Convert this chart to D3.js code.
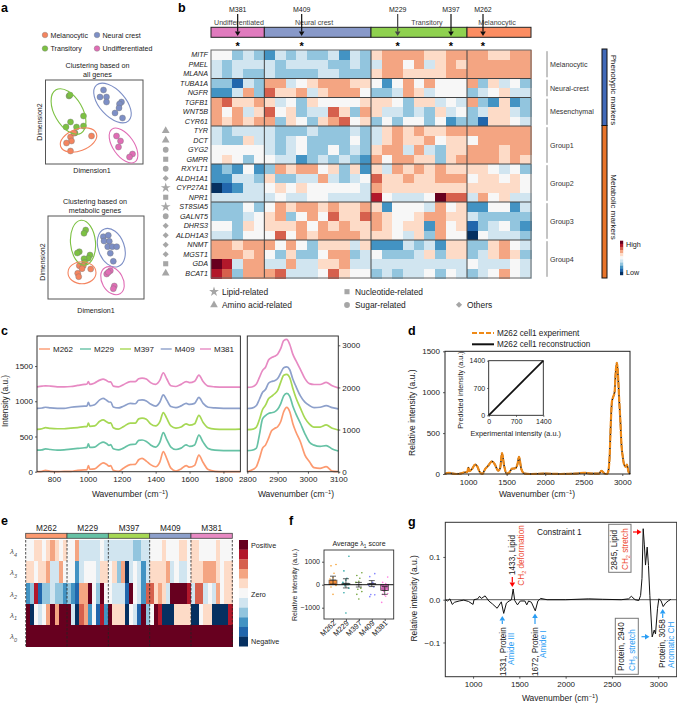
<!DOCTYPE html>
<html>
<head>
<meta charset="utf-8">
<script src="https://d3js.org/d3.v7.min.js"></script>
<style>
  html, body { margin: 0; padding: 0; background: #fff; }
  svg { display: block; }
  text { font-family: "Liberation Sans", Arial, sans-serif; fill: #222; }
</style>
</head>
<body>
<div id="chart"></div>
<script>
// shared 11 step colour ramp, level -5 .. 5
var ramp = ["#053061","#2166ac","#4393c3","#92c5de","#d1e5f0","#f7f7f7","#fddbc7","#f4a582","#d6604d","#b2182b","#67001f"];

var lines5 = ["M262","M229","M397","M409","M381"];
var lineColors = ["#fc9a70","#66c2a5","#a6d854","#8da0cb","#e78ac3"];

// panel a
var stateNames = ["Melanocytic","Neural crest","Transitory","Undifferentiated"];
var stateColors = ["#f4845f","#7d8fc6","#7cc142","#e06db5"];
var allTransitory = [[23.5,68],[24.5,69],[25,42],[38,48],[20.5,37],[31,37],[38,38],[29.5,31]];
var allMelanocytic = [[25,27],[46,28],[26,23],[21,21],[25,13],[28.5,31]];
var allNeural = [[58,74],[54.5,67],[61,67],[61,62],[76,62],[74,60],[73.5,56],[69.5,51],[77,46]];
var allUndiff = [[71,28],[75,23],[73,17],[87,10],[84,7]];
var metaTransitory = [[37.7,69],[36,65.7],[31.3,47.3],[29.3,46],[42,44],[40.3,40.7],[36,40.3],[36.7,36.7]];
var metaMelanocytic = [[31.3,33.3],[35.3,33.3],[42.7,30],[34,30.3],[29.7,25.7],[30.7,22.3]];
var metaNeural = [[55.3,62.3],[60.3,63.7],[56,58],[61.3,57.7],[59.7,52.3],[64.3,52.3],[68.7,52.3],[62.3,45.7],[65.3,37.7]];
var metaUndiff = [[62.3,28.3],[58.7,25],[60.3,26.7],[66.3,13],[65.3,10.3]];

// panel b
var genes = ["MITF","PMEL","MLANA","TUBA1A","NGFR","TGFB1","WNT5B","CYR61","TYR","DCT","GYG2","GMPR","RXYLT1","ALDH1A1","CYP27A1","NPR1","ST8SIA5","GALNT5","DHRS3","ALDH1A3","NNMT","MGST1","GDA","BCAT1"];
var geneLevels = [
  [0,0,-2,-1,-2, -3,-1,-2,-1,-2,-2,-1,-3,-1,-2, 1,2,2,2,2,1,1,2,2, 2,2,1,1,2,2],
  [-1,-2,-1,-1,-1, -1,-2,-1,-1,-1,-1,-2,-2,-1,-2, -1,2,2,0,2,-1,1,2,1, 2,2,2,2,2,2],
  [-1,-2,-1,-2,-2, -1,-2,-2,-2,-2,-1,-1,-2,-2,-2, 1,2,2,1,1,1,1,2,2, 2,2,2,2,2,2],
  [-2,-2,-4,-1,-2, 2,2,-1,0,1,2,2,2,1,1, 0,-3,0,2,0,2,0,0,0, 2,-2,1,-1,0,-2],
  [-3,-3,-1,2,-2, 3,1,1,2,-1,1,2,2,2,0, -2,-2,-1,2,1,-1,0,0,0, -2,-1,0,1,-1,-1],
  [2,3,1,1,2, 1,-1,0,-2,1,0,0,0,0,1, 1,1,0,-2,1,1,-1,0,-1, 2,-2,-3,1,-3,-2],
  [2,0,2,-1,1, 3,0,1,-2,-1,-1,3,1,-2,2, 1,-1,-1,-2,-1,-2,1,-1,0, -2,-1,1,1,-1,-2],
  [2,1,2,1,2, 2,-2,1,0,-2,1,2,3,0,1, -2,0,-2,0,0,-2,0,-3,-2, -2,-4,1,1,0,-1],
  [-1,-2,-1,-1,-1, -1,-2,-2,-2,-1,-2,-2,-2,-1,-2, -1,1,2,1,2,1,1,2,2, 2,2,2,2,2,2],
  [-1,-2,-2,1,-1, -1,-2,-1,0,-2,-2,-2,-2,0,-2, -1,1,2,1,1,2,0,1,1, 0,2,2,2,2,2],
  [0,0,0,0,0, -1,-2,-1,0,-2,-2,0,-2,-1,-2, 1,2,2,-1,2,-1,-2,1,1, 2,2,2,1,2,2],
  [0,1,0,-2,0, 0,-1,-1,-3,-2,-1,-2,-1,-2,-3, 2,0,2,2,1,1,-2,1,2, 2,2,2,1,2,1],
  [-3,-2,-3,0,-3, -2,2,1,2,2,0,1,-2,1,-3, 1,-1,2,1,2,1,2,1,1, 1,1,0,-1,0,-2],
  [-3,-3,-1,-1,-2, 1,-2,-2,-1,-1,2,-1,-2,-1,0, 3,1,1,2,1,1,2,2,2, 0,1,1,0,1,0],
  [-5,-4,-3,-1,-1, 0,1,0,1,0,0,0,0,0,-1, 2,1,1,1,1,1,1,1,1, 1,1,1,1,1,0],
  [-1,-1,-1,-1,-1, -1,0,-1,-1,0,0,-1,-1,-1,-1, 4,0,-1,-1,-1,0,5,3,3, -1,2,0,1,-1,-1],
  [-2,-2,-2,0,-2, 0,2,1,2,2,1,2,1,1,2, 1,-3,0,0,0,-1,2,0,1, -3,-3,0,0,-3,-1],
  [-2,-2,-2,-1,0, 1,2,-2,0,2,0,3,1,1,3, 2,1,0,0,1,2,2,1,1, -1,-2,-2,-2,-2,-2],
  [0,0,-2,1,0, 1,1,1,2,0,2,1,2,1,1, 2,1,0,1,1,-3,2,0,1, -4,-2,-1,0,-2,-3],
  [-1,-1,-2,0,0, 0,3,0,2,1,2,2,2,2,1, 1,1,0,-1,1,-2,2,0,0, -5,0,-1,-1,-1,-2],
  [2,2,1,2,2, 2,0,2,0,-2,1,1,1,-1,1, -3,-3,-3,-1,-2,-1,-3,1,1, -2,-2,1,2,0,-1],
  [2,2,2,1,2, 0,-2,1,-2,-2,0,2,2,-2,-1, 0,-2,-2,-2,-1,1,-2,1,1, -2,-1,1,2,1,-2],
  [5,4,-1,2,2, -1,-1,2,-1,-1,1,1,2,-1,-1, -1,-1,-1,-1,-1,-1,-1,-1,-1, 0,-1,-1,-1,0,-1],
  [4,3,-2,2,2, 2,3,-1,-1,-1,0,3,1,0,0, -2,-1,-2,-1,-1,0,-2,0,-1, -2,-1,0,2,0,-1]
];
var phenoNames = ["Undifferentiated","Neural crest","Transitory","Melanocytic"];
var phenoCounts = [5,10,9,6];
var phenoColors = ["#e07bbe","#8899c9","#8fd14f","#fc8d62"];
var pickedLines = ["M381","M409","M229","M397","M262"];
var pickedColumns = [2,8,17,22,25];
var geneGroups = ["Melanocytic","Neural-crest","Mesenchymal","Group1","Group2","Group3","Group4"];
var geneGroupCounts = [3,2,3,4,4,4,4];
var metabolicGenes = ["TYR","DCT","GYG2","GMPR","RXYLT1","ALDH1A1","CYP27A1","NPR1","ST8SIA5","GALNT5","DHRS3","ALDH1A3","NNMT","MGST1","GDA","BCAT1"];
var metabolicKinds = ["amino","amino","sugar","nucleotide","sugar","other","lipid","nucleotide","lipid","sugar","other","other","other","other","nucleotide","amino"];

// panel c
var wnLeft = [700,730,750,780,820,860,900,940,980,995,1003,1012,1040,1070,1090,1110,1125,1135,1150,1180,1210,1250,1280,1300,1320,1345,1370,1400,1425,1445,1465,1490,1520,1550,1580,1600,1630,1655,1680,1710,1750,1800,1900];
var leftM262 = [0,5,20,5,0,5,5,20,25,30,85,35,40,95,125,105,80,85,20,5,50,100,105,170,190,150,100,70,140,285,190,50,10,40,85,65,90,235,130,30,5,0,0];
var leftM229 = [305,310,325,315,305,310,320,330,340,345,395,345,350,400,420,400,375,385,325,310,335,385,390,445,450,430,380,350,420,555,460,350,315,335,380,360,380,520,420,330,305,300,300];
var leftM397 = [600,610,625,615,610,610,620,625,640,640,690,645,650,715,735,710,690,695,625,605,640,690,690,750,760,745,680,650,710,840,760,650,620,635,680,660,680,800,700,625,605,600,605];
var leftM409 = [900,905,915,905,900,900,915,925,930,935,985,935,950,1020,1040,1015,990,990,920,905,930,970,965,1015,1020,1005,960,930,990,1090,1020,925,910,935,970,955,970,1055,970,915,905,900,900];
var leftM381 = [1205,1215,1220,1215,1205,1205,1210,1225,1240,1245,1280,1240,1260,1300,1315,1295,1275,1275,1215,1205,1235,1280,1280,1320,1330,1315,1265,1240,1300,1405,1320,1220,1210,1240,1280,1265,1285,1370,1280,1215,1205,1200,1200];
var wnRight = [2800,2815,2830,2840,2850,2860,2870,2880,2890,2900,2910,2920,2930,2940,2950,2960,2975,2990,3005,3020,3040,3060,3080,3100];
var rightM262 = [0,40,120,316,553,632,790,972,1027,1067,1185,1422,1525,1422,1146,948,711,395,237,95,80,120,15,0];
var rightM229 = [500,510,560,880,1250,1330,1380,1400,1420,1480,1610,1800,1860,1790,1560,1380,1150,900,700,630,600,620,540,490];
var rightM397 = [1000,1005,1060,1240,1470,1580,1730,1790,1850,1930,2120,2290,2310,2230,1980,1760,1510,1270,1130,1060,1060,1110,1030,990];
var rightM409 = [1500,1510,1570,1720,1880,1950,2100,2140,2160,2210,2340,2470,2490,2420,2200,2030,1800,1650,1570,1520,1530,1570,1520,1490];
var rightM381 = [2000,2010,2080,2240,2400,2480,2650,2710,2740,2790,2920,3110,3140,3020,2790,2640,2430,2210,2090,2070,2070,2120,2040,1990];

// panel d
var wnCell = [700,750,800,850,900,950,990,1003,1015,1050,1090,1120,1150,1185,1220,1260,1310,1345,1390,1415,1440,1465,1500,1530,1570,1610,1640,1660,1690,1730,1800,2000,2200,2400,2500,2600,2700,2730,2770,2800,2815,2835,2850,2865,2885,2900,2915,2930,2945,2960,2975,2990,3005,3025,3045,3060,3080,3100];
var cellIntensity = [0,15,5,0,5,20,25,80,35,60,115,90,25,0,60,100,155,120,40,70,255,110,5,15,65,70,120,210,60,5,0,5,0,5,15,5,5,40,5,0,20,200,600,880,950,1000,1250,1360,1200,900,650,350,220,110,90,115,30,0];
var insetRange = [0,1400];

// panel e
var lambdaNames = ["4","3","2","1","0"];
var lambdaLevels = [
  [0,0,1,1,0,1,2,1,0,1, 0,0,2,-1,-1,-1,-1,-1,0,-1, -1,-1,-1,-1,-1,-1,-2,-2,-1,-1, 0,0,0,1,0,0,0,1,1,0, 1,1,0,0,0,0,1,0,0,0],
  [1,1,0,1,1,2,-1,-1,2,0, 0,0,-3,-1,0,0,0,-1,1,1, 0,1,-2,2,-5,-1,0,-1,-3,-1, 1,1,1,1,2,-1,0,-1,-1,0, 1,1,1,2,2,2,1,0,1,1],
  [-3,-2,4,-4,-2,-2,-1,-2,-2,-3, -2,-3,-4,2,2,5,0,-2,5,0, 0,-1,-1,-1,-4,5,0,-1,-3,3, 3,1,2,1,-1,5,5,5,5,4, -1,3,3,-1,0,-1,2,0,1,1],
  [5,-5,0,-1,0,2,5,2,5,5, 5,-1,-5,3,2,-3,0,-4,4,-3, 5,1,1,1,-5,0,-1,-4,5,-2, 0,5,4,-5,-5,-5,1,1,1,1, -5,-5,0,1,1,-5,-5,-5,-5,4],
  [5,5,5,5,5,5,5,5,5,5, 5,5,5,5,5,5,5,5,5,5, 5,5,5,5,5,5,5,5,5,5, 5,5,5,5,5,5,5,5,5,5, 5,5,5,5,5,5,5,5,5,5]
];

// panel f
var scoreMeans = [200,60,0,50,-250];
var scoreErrs = [170,200,100,130,170];
var scoreBarColors = ["#f08a3c","#2aa198","#6aa84f","#8080e0","#c264a8"];
var scoreDotColors = ["#f7a030","#1fa0a0","#6a9e2f","#7f7fff","#ff80e0"];
var scoreM262 = [880,820,500,300,250,150,80,-30,-100,-420];
var scoreM229 = [1240,600,280,200,100,0,-50,-150,-350,-1230];
var scoreM397 = [520,400,280,150,100,-150,-200,-300,-420,-620];
var scoreM409 = [480,350,100,50,-20,-100,-430,-440,-520];
var scoreM381 = [330,100,50,0,-100,-200,-300,-380,-420,-450,-500,-770];
var scoreJitter = [3,-2,1,0,-3,2,-1,3,-2,0,1,-3];

// panel g
var wnConstraint = [700,725,750,775,800,850,900,950,1000,1010,1050,1070,1090,1130,1170,1210,1260,1290,1305,1331,1360,1390,1415,1433,1450,1480,1510,1560,1580,1600,1630,1672,1700,1730,1800,2000,2250,2400,2600,2680,2710,2750,2790,2810,2825,2838,2850,2863,2881,2895,2910,2935,2957,2971,2993,3007,3030,3054,3080,3108,3137];
var constraintValues = [0,-0.003,0.002,-0.011,-0.006,-0.003,-0.001,-0.004,-0.011,0,0.002,0.008,0.003,0.009,-0.003,-0.01,-0.02,-0.01,-0.005,-0.032,-0.008,-0.003,0,0.025,-0.002,-0.012,-0.003,-0.003,-0.012,-0.003,-0.006,-0.026,-0.003,0.003,0,0,0.002,0.001,0,0.002,0.008,0,-0.002,0.01,0.05,0.166,0.13,0.081,0.123,0.08,0.01,-0.087,-0.071,-0.08,-0.02,0.002,-0.002,-0.016,-0.008,-0.003,0.001];

var svg = d3.select("#chart").append("svg").attr("width", 677).attr("height", 704);

// s can be a string or a list of parts like ["cm", {sup:"-1"}, ")"]
function txt(g, x, y, s, o) {
  o = o || {};
  var size = o.size || 8;
  var t = g.append("text")
    .attr("transform", "translate(" + x + "," + y + ")" + (o.rot ? " rotate(" + o.rot + ")" : ""))
    .attr("text-anchor", o.anchor || "start")
    .style("font-size", size + "px");
  if (o.fill) t.style("fill", o.fill);
  if (o.weight) t.style("font-weight", o.weight);
  if (o.italic) t.style("font-style", "italic");
  var parts = typeof s == "string" ? [s] : s;
  var shift = 0;
  parts.forEach(function(p) {
    var span = t.append("tspan");
    if (typeof p == "string") {
      span.text(p).attr("dy", -shift);
      shift = 0;
    } else {
      var d = p.sub ? size * 0.3 : -size * 0.4;
      span.text(p.sub || p.sup).attr("dy", d - shift).style("font-size", size * 0.68 + "px");
      shift = d;
    }
  });
  return t;
}

function box(g, x0, x1, y0, y1, stroke, w) {
  return g.append("rect").attr("x", x0).attr("y", y0).attr("width", x1 - x0).attr("height", y1 - y0)
    .attr("fill", "none").attr("stroke", stroke || "#333").attr("stroke-width", w || 1);
}

function styleAxis(g, size) {
  g.select(".domain").remove();
  g.selectAll("line").attr("stroke", "#333").attr("stroke-width", 0.8);
  g.selectAll("text").style("font-size", (size || 8) + "px").style("font-family", "Liberation Sans, Arial, sans-serif");
}

function placeAxis(parent, axis, x, y, size) {
  var g = parent.append("g").attr("transform", "translate(" + x + "," + y + ")").call(axis);
  styleAxis(g, size);
  return g;
}

function arrow(x1, y1, x2, y2, col) {
  var len = Math.sqrt((x2 - x1) * (x2 - x1) + (y2 - y1) * (y2 - y1));
  var ux = (x2 - x1) / len, uy = (y2 - y1) / len;
  var bx = x2 - ux * 4.5, by = y2 - uy * 4.5;
  svg.append("line").attr("x1", x1).attr("y1", y1).attr("x2", bx).attr("y2", by).attr("stroke", col).attr("stroke-width", 1.2);
  svg.append("path")
    .attr("d", d3.line()([[x2, y2], [bx - uy * 2.8, by + ux * 2.8], [bx + uy * 2.8, by - ux * 2.8]]) + "Z")
    .attr("fill", col);
}

function letter(s, x, y) { txt(svg, x, y, s, { size: 12.5, weight: "bold", fill: "#000" }); }

// ---------- a ----------
function drawClusters(x0, x1, y0, y1, groups, rings) {
  var x = d3.scaleLinear().domain([0, x1 - x0]).range([x0, x1]);
  var y = d3.scaleLinear().domain([0, y1 - y0]).range([y1, y0]);
  box(svg, x0, x1, y0, y1, "#555", 1);
  groups.forEach(function(gr) {
    svg.append("g").selectAll("circle").data(gr.pts).enter().append("circle")
      .attr("cx", function(d) { return x(d[0]); })
      .attr("cy", function(d) { return y(d[1]); })
      .attr("r", 3)
      .attr("fill", stateColors[gr.state])
      .attr("stroke", "#777").attr("stroke-width", 0.4);
  });
  rings.forEach(function(r) {
    svg.append("ellipse")
      .attr("transform", "translate(" + x(r[0]) + "," + y(r[1]) + ") rotate(" + r[4] + ")")
      .attr("rx", r[2]).attr("ry", r[3])
      .attr("fill", "none").attr("stroke", stateColors[r[5]]).attr("stroke-width", 1.1);
  });
}

stateNames.forEach(function(n, i) {
  var cx = i % 2 == 0 ? 45 : 97, cy = i < 2 ? 35 : 48.5;
  svg.append("circle").attr("cx", cx).attr("cy", cy).attr("r", 2.8)
    .attr("fill", stateColors[i]).attr("stroke", "#777").attr("stroke-width", 0.4);
  txt(svg, cx + 5.5, cy + 2.6, n, { size: 7.1 });
});
txt(svg, 97.5, 68, "Clustering based on", { anchor: "middle", size: 7.2 });
txt(svg, 97.5, 76.5, "all genes", { anchor: "middle", size: 7.2 });
drawClusters(45.5, 143, 80, 164,
  [{ pts: allTransitory, state: 2 }, { pts: allMelanocytic, state: 0 }, { pts: allNeural, state: 1 }, { pts: allUndiff, state: 3 }],
  [[23, 52.5, 25, 14, 60, 2], [33, 24, 19, 11, -20, 0], [67, 61, 24, 13, 48, 1], [78, 18.5, 20, 10.5, 55, 3]]);
txt(svg, 42, 122, "Dimension2", { rot: -90, anchor: "middle", size: 7.1 });
txt(svg, 92, 173, "Dimension1", { anchor: "middle", size: 7.1 });

txt(svg, 95, 204, "Clustering based on", { anchor: "middle", size: 7.2 });
txt(svg, 95, 212.5, "metabolic genes", { anchor: "middle", size: 7.2 });
drawClusters(48, 144, 216, 299,
  [{ pts: metaTransitory, state: 2 }, { pts: metaMelanocytic, state: 0 }, { pts: metaNeural, state: 1 }, { pts: metaUndiff, state: 3 }],
  [[35, 56.3, 22.5, 12.5, 85, 2], [34, 26.3, 14, 11, 0, 0], [63.3, 51.3, 20, 13, 70, 1], [64.5, 18.3, 15, 10.5, 60, 3]]);
txt(svg, 45, 262, "Dimension2", { rot: -90, anchor: "middle", size: 7.1 });
txt(svg, 96, 313, "Dimension1", { anchor: "middle", size: 7.1 });

// ---------- b ----------
var cols = d3.range(30);
var xb = d3.scaleBand().domain(cols).range([211, 531]);
var yb = d3.scaleBand().domain(genes).range([50, 278]);
var levelColor = d3.scaleOrdinal().domain(d3.range(-5, 6)).range(ramp);

var bRows = svg.append("g").selectAll("g").data(geneLevels).enter().append("g")
  .attr("transform", function(d, i) { return "translate(0," + yb(genes[i]) + ")"; });
bRows.selectAll("rect").data(function(d) { return d; }).enter().append("rect")
  .attr("x", function(d, i) { return xb(i); })
  .attr("width", xb.bandwidth() + 0.6)
  .attr("height", yb.bandwidth() + 0.6)
  .attr("shape-rendering", "crispEdges")
  .attr("fill", function(d) { return levelColor(d); });

genes.forEach(function(g) {
  txt(svg, 208, yb(g) + yb.bandwidth() / 2 + 2.6, g, { anchor: "end", italic: true, size: 7.2 });
});

// separators, column groups and gene groups
var phenoLabelX = [239,314,427,497];
var colStart = 0;
phenoCounts.forEach(function(n, i) {
  var x0 = xb(colStart), x1 = xb(colStart) + n * xb.bandwidth();
  svg.append("rect").attr("x", x0).attr("y", 27.3).attr("width", x1 - x0).attr("height", 10)
    .attr("fill", phenoColors[i]).attr("stroke", "#222").attr("stroke-width", 1);
  txt(svg, phenoLabelX[i], 24.5, phenoNames[i], { anchor: "middle", size: 7.1, fill: "#444" });
  colStart += n;
  if (i < 3) svg.append("line").attr("x1", x1).attr("x2", x1).attr("y1", 50).attr("y2", 278).attr("stroke", "#444").attr("stroke-width", 1);
});
var rowStart = 0;
geneGroupCounts.forEach(function(n, i) {
  var y0 = yb(genes[rowStart]), y1 = y0 + n * yb.bandwidth();
  if (i < 6) svg.append("line").attr("x1", 211).attr("x2", 531).attr("y1", y1).attr("y2", y1).attr("stroke", "#444").attr("stroke-width", 1);
  svg.append("line").attr("x1", 547).attr("x2", 547).attr("y1", y0 + 1.2).attr("y2", y1 - 1.2).attr("stroke", "#888").attr("stroke-width", 1);
  txt(svg, 550, (y0 + y1) / 2 + 2.6, geneGroups[i], { size: 7.1, fill: "#333" });
  rowStart += n;
});
box(svg, 211, 531, 50, 278, "#666", 1);

pickedLines.forEach(function(n, i) {
  var cx = xb(pickedColumns[i]) + xb.bandwidth() / 2;
  txt(svg, cx, 12, n, { anchor: "middle", size: 7 });
  arrow(cx, 14, cx, 36, i == 2 ? "#444" : "#111");
  txt(svg, cx, 50, "*", { anchor: "middle", size: 11, fill: "#000", weight: "bold" });
});

// metabolic type glyphs
var kindSymbols = { lipid: d3.symbolStar, amino: d3.symbolTriangle, sugar: d3.symbolCircle, nucleotide: d3.symbolSquare, other: d3.symbolDiamond2 };
var kindSizes = { lipid: 30, amino: 26, sugar: 26, nucleotide: 26, other: 24 };
function glyph(kind, x, y) {
  svg.append("path").attr("transform", "translate(" + x + "," + y + ")")
    .attr("d", d3.symbol().type(kindSymbols[kind]).size(kindSizes[kind])())
    .attr("fill", "#a6a6a6");
}
metabolicGenes.forEach(function(g, i) { glyph(metabolicKinds[i], 165.7, yb(g) + yb.bandwidth() / 2); });

var bLegendKinds = ["lipid","amino","nucleotide","sugar","other"];
var bLegendNames = ["Lipid-related","Amino acid-related","Nucleotide-related","Sugar-related","Others"];
var bLegendX = [214,214,347,347,459];
var bLegendY = [291.7,305,291.7,305,304.7];
bLegendKinds.forEach(function(k, i) {
  glyph(k, bLegendX[i], bLegendY[i]);
  txt(svg, bLegendX[i] + 8, bLegendY[i] + 2.8, bLegendNames[i], { size: 8.4 });
});

// marker bar on the right
svg.append("rect").attr("x", 602).attr("y", 49).attr("width", 5).attr("height", 76.5).attr("fill", "#4169b8").attr("stroke", "#111").attr("stroke-width", 1);
svg.append("rect").attr("x", 602).attr("y", 125.5).attr("width", 5).attr("height", 152.5).attr("fill", "#e8742a").attr("stroke", "#111").attr("stroke-width", 1);
txt(svg, 611, 90, "Phenotypic markers", { rot: 90, anchor: "middle", size: 8 });
txt(svg, 611, 207, "Metabolic markers", { rot: 90, anchor: "middle", size: 8 });

var yHigh = d3.scaleBand().domain(d3.range(11)).range([240.7, 275]);
svg.append("g").selectAll("rect").data(ramp.slice().reverse()).enter().append("rect")
  .attr("x", 620).attr("width", 3.2)
  .attr("y", function(d, i) { return yHigh(i); })
  .attr("height", yHigh.bandwidth() + 0.2)
  .attr("fill", function(d) { return d; });
txt(svg, 626, 246.5, "High", { size: 7.2 });
txt(svg, 626, 274.5, "Low", { size: 7.2 });

// ---------- c ----------
var xcl = d3.scaleLinear().domain([700, 1900]).range([37, 240.4]);
var xcr = d3.scaleLinear().domain([2800, 3100]).range([247.3, 338.3]);
var ycl = d3.scaleLinear().domain([0, 1927]).range([471.7, 336]);
var ycr = d3.scaleLinear().domain([0, 3221]).range([471.7, 336]);
var leftSeries = [leftM262, leftM229, leftM397, leftM409, leftM381];
var rightSeries = [rightM262, rightM229, rightM397, rightM409, rightM381];

var lineLeft = d3.line().curve(d3.curveMonotoneX)
  .x(function(d, i) { return xcl(wnLeft[i]); })
  .y(function(d) { return ycl(d); });
var lineRight = d3.line().curve(d3.curveMonotoneX)
  .x(function(d, i) { return xcr(wnRight[i]); })
  .y(function(d) { return ycr(d); });

leftSeries.forEach(function(s, i) {
  svg.append("path").attr("d", lineLeft(s)).attr("fill", "none").attr("stroke", lineColors[i]).attr("stroke-width", 1.7);
});
rightSeries.forEach(function(s, i) {
  svg.append("path").attr("d", lineRight(s)).attr("fill", "none").attr("stroke", lineColors[i]).attr("stroke-width", 1.7);
});
box(svg, 37, 240.4, 336, 471.7, "#333", 1);
box(svg, 247.3, 338.3, 336, 471.7, "#333", 1);
placeAxis(svg, d3.axisBottom(xcl).tickValues([800,1000,1200,1400,1600,1800]).tickSize(2).tickPadding(3).tickFormat(d3.format("d")), 0, 471.7);
placeAxis(svg, d3.axisLeft(ycl).tickValues([0,500,1000,1500]).tickSize(2).tickPadding(2).tickFormat(d3.format("d")), 37, 0);
placeAxis(svg, d3.axisBottom(xcr).tickValues([2800,2900,3000,3100]).tickSize(2).tickPadding(3).tickFormat(d3.format("d")), 0, 471.7);
placeAxis(svg, d3.axisRight(ycr).tickValues([0,1000,2000,3000]).tickSize(2).tickPadding(2).tickFormat(d3.format("d")), 338.3, 0);
txt(svg, 7.5, 401, "Intensity (a.u.)", { rot: -90, anchor: "middle", size: 8.2 });
var wnLabel = ["Wavenumber (cm", { sup: "\u22121" }, ")"];
txt(svg, 130, 497, wnLabel, { anchor: "middle", size: 8.5 });
txt(svg, 296, 497, wnLabel, { anchor: "middle", size: 8.5 });

var cLegendX = [39,80,120,160.7,200];
lines5.forEach(function(n, i) {
  svg.append("line").attr("x1", cLegendX[i]).attr("x2", cLegendX[i] + 11).attr("y1", 349).attr("y2", 349)
    .attr("stroke", lineColors[i]).attr("stroke-width", 1.4);
  txt(svg, cLegendX[i] + 14, 352, n, { size: 8 });
});

// ---------- d ----------
var xd = d3.scaleLinear().domain([700, 3100]).range([445, 630]);
var yd = d3.scaleLinear().domain([0, 1500]).range([474, 351.3]);
var lineD = d3.line().curve(d3.curveMonotoneX)
  .x(function(d, i) { return xd(wnCell[i]); })
  .y(function(d) { return yd(d); });
svg.append("path").attr("d", lineD(cellIntensity)).attr("fill", "none").attr("stroke", "#111").attr("stroke-width", 1.5);
svg.append("path").attr("d", lineD(cellIntensity)).attr("fill", "none").attr("stroke", "#ef8a17").attr("stroke-width", 2.2).attr("stroke-dasharray", "6 1");
box(svg, 445, 630, 351.3, 474, "#222", 1);
placeAxis(svg, d3.axisBottom(xd).tickValues([1000,1500,2000,2500,3000]).tickSize(2).tickPadding(3).tickFormat(d3.format("d")), 0, 474);
placeAxis(svg, d3.axisLeft(yd).tickValues([0,500,1000,1500]).tickSize(2).tickPadding(3).tickFormat(d3.format("d")), 445, 0);
txt(svg, 414.5, 412.7, "Relative intensity (a.u.)", { rot: -90, anchor: "middle", size: 8.5 });
txt(svg, 537, 497, wnLabel, { anchor: "middle", size: 8.5 });
svg.append("line").attr("x1", 472).attr("x2", 494).attr("y1", 333).attr("y2", 333).attr("stroke", "#ef8a17").attr("stroke-width", 2).attr("stroke-dasharray", "5 2");
svg.append("line").attr("x1", 472).attr("x2", 494).attr("y1", 344.3).attr("y2", 344.3).attr("stroke", "#111").attr("stroke-width", 2);
txt(svg, 497, 336, "M262 cell1 experiment", { size: 8.2 });
txt(svg, 497, 347.3, "M262 cell1 reconstruction", { size: 8.2 });

var xi = d3.scaleLinear().domain(insetRange).range([488.7, 543.3]);
var yi = d3.scaleLinear().domain(insetRange).range([415.3, 360.7]);
svg.append("line").attr("x1", xi(0)).attr("y1", yi(0)).attr("x2", xi(1400)).attr("y2", yi(1400)).attr("stroke", "#111").attr("stroke-width", 1.8);
box(svg, 488.7, 543.3, 360.7, 415.3, "#222", 0.9);
placeAxis(svg, d3.axisBottom(xi).tickValues([0,700,1400]).tickSize(1.5).tickPadding(2).tickFormat(d3.format("d")), 0, 415.3, 7);
placeAxis(svg, d3.axisLeft(yi).tickValues([0,700,1400]).tickSize(1.5).tickPadding(2).tickFormat(d3.format("d")), 488.7, 0, 7);
txt(svg, 463, 390, "Predicted intensity (a.u.)", { rot: -90, anchor: "middle", size: 7.2 });
txt(svg, 515.7, 436, "Experimental intensity (a.u.)", { anchor: "middle", size: 7.3 });

// ---------- e ----------
var xe = d3.scaleBand().domain(d3.range(50)).range([25.7, 232.3]);
var ye = d3.scaleBand().domain(lambdaNames).range([540, 646.3]);
var eRows = svg.append("g").selectAll("g").data(lambdaLevels).enter().append("g")
  .attr("transform", function(d, i) { return "translate(0," + ye(lambdaNames[i]) + ")"; });
eRows.selectAll("rect").data(function(d) { return d; }).enter().append("rect")
  .attr("x", function(d, i) { return xe(i); })
  .attr("width", xe.bandwidth() + 0.6)
  .attr("height", ye.bandwidth() + 0.6)
  .attr("shape-rendering", "crispEdges")
  .attr("fill", function(d) { return levelColor(d); });

lines5.forEach(function(n, i) {
  var x0 = xe(i * 10), x1 = x0 + 10 * xe.bandwidth();
  svg.append("rect").attr("x", x0).attr("y", 533.3).attr("width", x1 - x0).attr("height", 5)
    .attr("fill", lineColors[i]).attr("stroke", "#444").attr("stroke-width", 0.8);
  txt(svg, (x0 + x1) / 2, 531, n, { anchor: "middle", size: 8.3 });
  svg.append("line").attr("x1", x0).attr("x2", x0).attr("y1", 540).attr("y2", 646.3)
    .attr("stroke", "#222").attr("stroke-width", 0.8).attr("stroke-dasharray", "2.5 1.5");
  if (i == 4) svg.append("line").attr("x1", x1).attr("x2", x1).attr("y1", 540).attr("y2", 646.3)
    .attr("stroke", "#222").attr("stroke-width", 0.8).attr("stroke-dasharray", "2.5 1.5");
});
lambdaNames.forEach(function(n) {
  txt(svg, 10, ye(n) + ye.bandwidth() / 2 + 3.5, ["\u03bb", { sub: n }], { size: 8, fill: "#555", italic: true });
});
var yeBar = d3.scaleBand().domain(d3.range(11)).range([540, 646.3]);
svg.append("g").selectAll("rect").data(ramp.slice().reverse()).enter().append("rect")
  .attr("x", 239).attr("width", 9)
  .attr("y", function(d, i) { return yeBar(i); })
  .attr("height", yeBar.bandwidth() + 0.2)
  .attr("fill", function(d) { return d; });
txt(svg, 251, 548, "Positive", { size: 7.2 });
txt(svg, 251, 596.5, "Zero", { size: 7.2 });
txt(svg, 251, 643.5, "Negative", { size: 7.2 });

// ---------- f ----------
var xf = d3.scalePoint().domain(lines5).range([333, 384.7]);
var yf = d3.scaleLinear().domain([-1491, 1509]).range([619, 550]);
var scoreSeries = [scoreM262, scoreM229, scoreM397, scoreM409, scoreM381];
lines5.forEach(function(n, i) {
  svg.append("rect").attr("x", xf(n) - 4).attr("width", 8)
    .attr("y", Math.min(yf(scoreMeans[i]), yf(0)))
    .attr("height", Math.abs(yf(scoreMeans[i]) - yf(0)))
    .attr("fill", scoreBarColors[i]).attr("stroke", "#444").attr("stroke-width", 0.6);
  svg.append("g").selectAll("circle").data(scoreSeries[i]).enter().append("circle")
    .attr("cx", function(d, k) { return xf(n) + scoreJitter[k]; })
    .attr("cy", function(d) { return yf(d); })
    .attr("r", 0.8)
    .attr("fill", scoreDotColors[i]);
  var hi = yf(scoreMeans[i] + scoreErrs[i]), lo = yf(scoreMeans[i] - scoreErrs[i]);
  svg.append("path").attr("d", "M" + (xf(n) - 3) + "," + hi + "H" + (xf(n) + 3) + "M" + xf(n) + "," + hi + "V" + lo + "M" + (xf(n) - 3) + "," + lo + "H" + (xf(n) + 3))
    .attr("fill", "none").attr("stroke", "#222").attr("stroke-width", 0.7);
  svg.append("path").attr("d", "M" + (xf(n) - 3) + "," + yf(scoreMeans[i]) + "H" + (xf(n) + 3))
    .attr("stroke", "#222").attr("stroke-width", 0.7);
  txt(svg, xf(n) + 3.5, 623.5, n, { rot: -45, anchor: "end", size: 7.5 });
});
svg.append("line").attr("x1", 324).attr("x2", 393.7).attr("y1", yf(0)).attr("y2", yf(0)).attr("stroke", "#111").attr("stroke-width", 1);
box(svg, 324, 393.7, 550, 619, "#333", 0.9);
placeAxis(svg, d3.axisLeft(yf).tickValues([-1000,0,1000]).tickSize(2).tickPadding(2).tickFormat(function(d) { return d < 0 ? "\u22121000" : d; }), 324, 0, 7);
var fTicks = svg.append("g").attr("transform", "translate(0,619)").call(d3.axisBottom(xf).tickSize(2).tickFormat(""));
styleAxis(fTicks);
txt(svg, 297, 585, "Relative intensity (a.u.)", { rot: -90, anchor: "middle", size: 7.1 });
txt(svg, 359, 546, ["Average \u03bb", { sub: "1" }, " score"], { anchor: "middle", size: 7 });

// ---------- g ----------
var xg = d3.scaleLinear().domain([700, 3200]).range([445.3, 676.7]);
var yg = d3.scaleLinear().domain([-0.18, 0.181]).range([676.7, 522.3]);
svg.append("line").attr("x1", 445.3).attr("x2", 676.7).attr("y1", yg(0)).attr("y2", yg(0)).attr("stroke", "#777").attr("stroke-width", 1.3);
var lineG = d3.line()
  .x(function(d, i) { return xg(wnConstraint[i]); })
  .y(function(d) { return yg(d); });
svg.append("path").attr("d", lineG(constraintValues)).attr("fill", "none").attr("stroke", "#111").attr("stroke-width", 1);
box(svg, 445.3, 676.7, 522.3, 676.7, "#333", 1);
placeAxis(svg, d3.axisBottom(xg).tickValues([1000,1500,2000,2500,3000]).tickSize(2).tickPadding(3).tickFormat(d3.format("d")), 0, 676.7);
placeAxis(svg, d3.axisLeft(yg).tickValues([-0.1,0,0.1]).tickSize(2).tickPadding(3).tickFormat(function(d) { return d < 0 ? "\u22120.1" : d3.format(".1f")(d); }), 445.3, 0);
txt(svg, 417, 598.3, "Relative intensity (a.u.)", { rot: -90, anchor: "middle", size: 8.5 });
txt(svg, 560, 701, wnLabel, { anchor: "middle", size: 8.5 });
txt(svg, 559.3, 534.5, "Constraint 1", { anchor: "middle", size: 8.3 });

var red = "#ee4b33", blue = "#2a9df4";
function vtxt(x, y, s, col) { txt(svg, x, y, s, { rot: -90, size: 8.2, fill: col || "#222" }); }
vtxt(515.3, 575, "1433, Lipid");
vtxt(524, 585.7, ["CH", { sub: "2" }, " deformation"], red);
arrow(512.3, 577, 512.3, 587, "#f00");
vtxt(505.7, 676, "1331, Protein");
vtxt(514, 665, "Amide III", blue);
arrow(502.3, 624, 502.3, 616, blue);
vtxt(538, 676, "1672, Protein");
vtxt(546, 658, "Amide I", blue);
arrow(535, 624, 535, 613.5, blue);
box(svg, 608.7, 631, 524.3, 572.3, "#777", 1);
vtxt(616.7, 570, "2845, Lipid");
vtxt(628, 570, ["CH", { sub: "2" }, " stretch"], red);
arrow(633, 532, 641.5, 532, "#f00");
box(svg, 615.3, 638.3, 618.3, 674.3, "#777", 1);
vtxt(624, 671, "Protein, 2940");
vtxt(635, 671, ["CH", { sub: "3" }, " stretch"], blue);
arrow(641.5, 636.7, 649.5, 636.7, blue);
vtxt(664.7, 668, "Protein, 3058");
vtxt(674, 668, "Aromatic CH", blue);
arrow(662.7, 618, 662.7, 609, blue);

// panel letters
letter("a", 1, 11.5);
letter("b", 178, 11.5);
letter("c", 1, 335);
letter("d", 408, 335);
letter("e", 1, 525);
letter("f", 289, 525);
letter("g", 408, 526);
</script>
</body>
</html>
